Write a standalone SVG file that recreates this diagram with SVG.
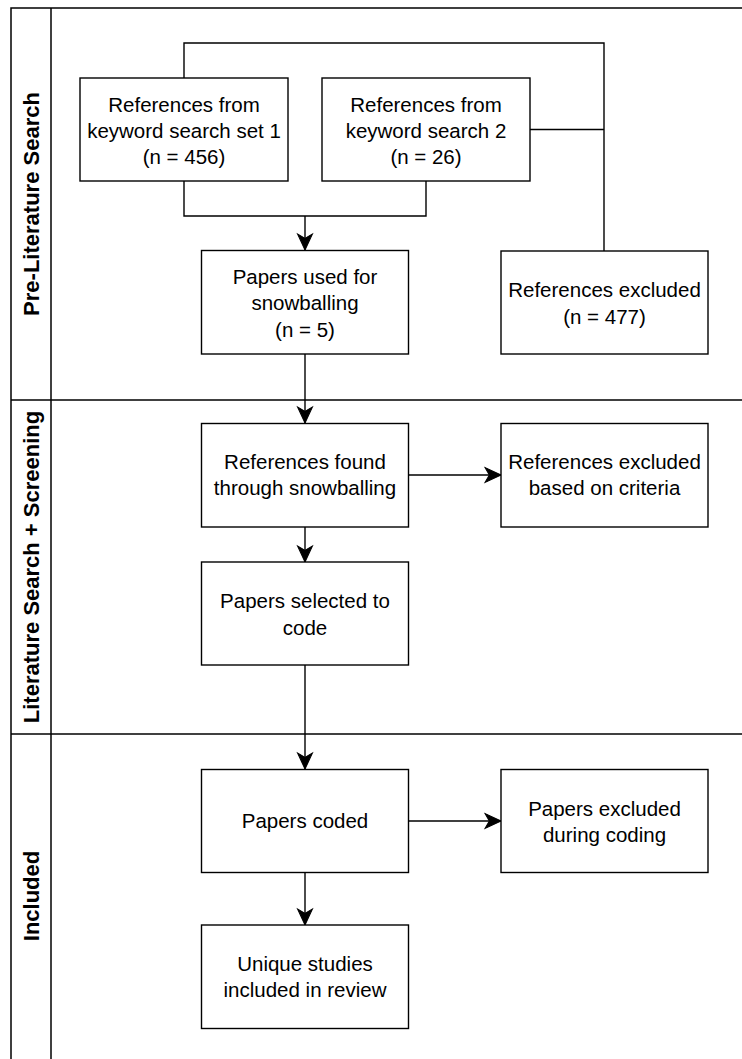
<svg xmlns="http://www.w3.org/2000/svg" width="742" height="1059" viewBox="0 0 742 1059">
  <style>
    .lane { fill: none; stroke: #000; stroke-width: 1.5; }
    .box { fill: #fff; stroke: #000; stroke-width: 1.4; }
    .edge { fill: none; stroke: #000; stroke-width: 1.4; }
    .lbl { font-family: "Liberation Sans", Arial, sans-serif; font-size: 20.5px; fill: #000; text-anchor: middle; }
    .title { font-family: "Liberation Sans", Arial, sans-serif; font-size: 22px; font-weight: bold; fill: #000; text-anchor: middle; }
  </style>
  <defs>
    <marker id="arrow" markerUnits="userSpaceOnUse" markerWidth="18" markerHeight="18" refX="0" refY="0" viewBox="-16 -8 17 16" orient="auto" overflow="visible">
      <path d="M0,0 L-15,-7 L-11,0 L-15,7 Z" fill="#000" stroke="#000" stroke-width="1"/>
    </marker>
  </defs>
  <rect width="742" height="1059" fill="#fff"/>

  <!-- swimlane frame -->
  <g id="lanes">
    <path class="lane" d="M11,1059 V8 H742"/>
    <path class="lane" d="M51,8 V1059"/>
    <path class="lane" d="M11,400 H742"/>
    <path class="lane" d="M11,734 H742"/>
  </g>
  <g id="lane-pre">
    <text class="title" transform="translate(39,204) rotate(-90)">Pre-Literature Search</text>
  </g>
  <g id="lane-screening">
    <text class="title" transform="translate(39,567) rotate(-90)">Literature Search + Screening</text>
  </g>
  <g id="lane-included">
    <text class="title" transform="translate(39,896) rotate(-90)">Included</text>
  </g>

  <!-- connectors -->
  <g id="connectors">
    <path class="edge" d="M184,78 V43 H604 V251"/>
    <path class="edge" d="M530,129.5 H604"/>
    <path class="edge" d="M184,181 V216 H426 V181"/>
    <path class="edge" d="M305,216 V250" marker-end="url(#arrow)"/>
    <path class="edge" d="M305,354 V423" marker-end="url(#arrow)"/>
    <path class="edge" d="M409,475 H501" marker-end="url(#arrow)"/>
    <path class="edge" d="M305,527 V562" marker-end="url(#arrow)"/>
    <path class="edge" d="M305,665 V769" marker-end="url(#arrow)"/>
    <path class="edge" d="M409,821 H501" marker-end="url(#arrow)"/>
    <path class="edge" d="M305,873 V925" marker-end="url(#arrow)"/>
  </g>

  <!-- nodes -->
  <g id="keyword-search-1">
    <rect class="box" x="80" y="78" width="208" height="103"/>
    <text class="lbl" x="184" y="111.5">References from</text>
    <text class="lbl" x="184" y="137.5">keyword search set 1</text>
    <text class="lbl" x="184" y="163.5">(n = 456)</text>
  </g>
  <g id="keyword-search-2">
    <rect class="box" x="322" y="78" width="208" height="103"/>
    <text class="lbl" x="426" y="111.5">References from</text>
    <text class="lbl" x="426" y="137.5">keyword search 2</text>
    <text class="lbl" x="426" y="163.5">(n = 26)</text>
  </g>
  <g id="snowball-papers">
    <rect class="box" x="201.5" y="250.5" width="207" height="103.5"/>
    <text class="lbl" x="305" y="284">Papers used for</text>
    <text class="lbl" x="305" y="310">snowballing</text>
    <text class="lbl" x="305" y="336.5">(n = 5)</text>
  </g>
  <g id="references-excluded">
    <rect class="box" x="501" y="251" width="207" height="103"/>
    <text class="lbl" x="604.5" y="297">References excluded</text>
    <text class="lbl" x="604.5" y="324">(n = 477)</text>
  </g>
  <g id="snowball-references">
    <rect class="box" x="201.5" y="423.5" width="207" height="103.5"/>
    <text class="lbl" x="305" y="468.5">References found</text>
    <text class="lbl" x="305" y="495">through snowballing</text>
  </g>
  <g id="criteria-excluded">
    <rect class="box" x="501" y="423.5" width="207" height="103.5"/>
    <text class="lbl" x="604.5" y="468.5">References excluded</text>
    <text class="lbl" x="604.5" y="495">based on criteria</text>
  </g>
  <g id="papers-selected">
    <rect class="box" x="201.5" y="562" width="207" height="103"/>
    <text class="lbl" x="305" y="608">Papers selected to</text>
    <text class="lbl" x="305" y="634.5">code</text>
  </g>
  <g id="papers-coded">
    <rect class="box" x="201.5" y="769.5" width="207" height="103"/>
    <text class="lbl" x="305" y="827.5">Papers coded</text>
  </g>
  <g id="coding-excluded">
    <rect class="box" x="501" y="769.5" width="207" height="103"/>
    <text class="lbl" x="604.5" y="816">Papers excluded</text>
    <text class="lbl" x="604.5" y="842">during coding</text>
  </g>
  <g id="unique-studies">
    <rect class="box" x="201.5" y="925" width="207" height="103.5"/>
    <text class="lbl" x="305" y="971">Unique studies</text>
    <text class="lbl" x="305" y="997">included in review</text>
  </g>
</svg>
